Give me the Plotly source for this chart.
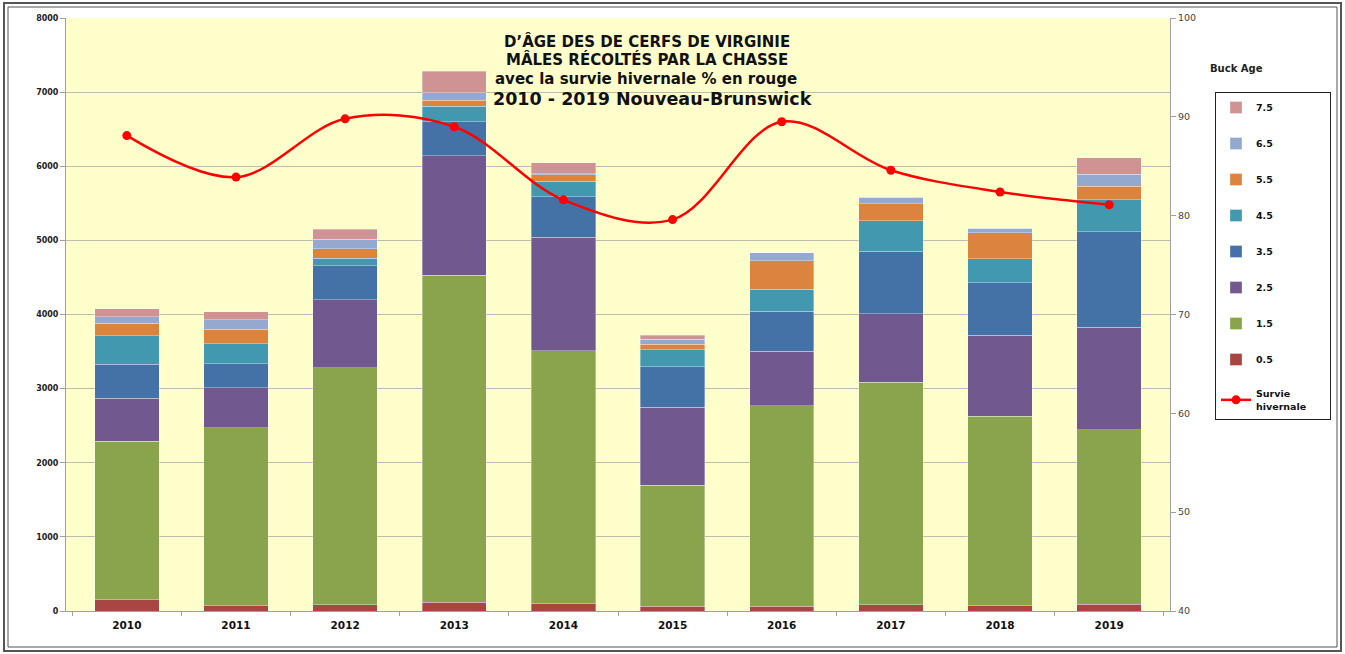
import plotly.graph_objects as go

years = ["2010", "2011", "2012", "2013", "2014", "2015", "2016", "2017", "2018", "2019"]
age_labels = ["0.5", "1.5", "2.5", "3.5", "4.5", "5.5", "6.5", "7.5"]

age_05 = [152, 72, 87, 121, 103, 67, 63, 85, 76, 90]
age_15 = [2138, 2402, 3193, 4409, 3407, 1628, 2709, 3001, 2553, 2355]
age_25 = [580, 539, 917, 1611, 1533, 1056, 732, 926, 1092, 1384]
age_35 = [459, 320, 458, 458, 548, 543, 539, 840, 706, 1290]
age_45 = [386, 274, 101, 212, 207, 230, 297, 413, 328, 432]
age_55 = [167, 194, 131, 82, 90, 76, 386, 229, 351, 179]
age_65 = [89, 130, 130, 97, 13, 63, 108, 90, 58, 162]
age_75 = [104, 108, 130, 289, 144, 54, 0, 0, 0, 220]

survie = [88.1, 83.9, 89.8, 89.0, 81.6, 79.6, 89.5, 84.6, 82.4, 81.1]

series = [age_05, age_15, age_25, age_35, age_45, age_55, age_65, age_75]
colors = ["#A84643", "#8AA44E", "#71588F", "#4472A6", "#4198AF", "#DB843D", "#93A9D0", "#D09393"]

fig = go.Figure()
n = len(series)
for i, (lab, vals, col) in enumerate(zip(age_labels, series, colors)):
    fig.add_trace(go.Bar(
        x=years, y=vals, name="<b>" + lab + "</b>", marker_color=col,
        marker_line=dict(color="rgba(255,255,255,0.55)", width=0.6),
        legendgroup=lab, legendrank=100 + (n - i),
    ))

fig.add_trace(go.Scatter(
    x=years, y=survie, name="<b>Survie<br>hivernale</b>&nbsp;&nbsp;&nbsp;&nbsp;&nbsp;&nbsp;", yaxis="y2",
    mode="lines+markers", line=dict(color="#FF0000", width=2.5, shape="spline", smoothing=1.0),
    marker=dict(color="#FF0000", size=9), legendgroup="surv", legendrank=200,
))

L, R, T, B = 66, 175, 18, 43
W, H = 1345, 654
pw, ph = W - L - R, H - T - B

def px_x(p):
    return (p - L) / pw

def px_y(p):
    return (H - B - p) / ph

shapes = []
for off, wdt in [(0, 2), (4, 1.0)]:
    shapes.append(dict(type="rect", xref="paper", yref="paper",
                       x0=px_x(4 + off), x1=px_x(1341 - off),
                       y0=px_y(651 - off), y1=px_y(3 + off),
                       line=dict(color="#555555", width=wdt), fillcolor="rgba(0,0,0,0)", layer="below"))

title_font = "DejaVu Sans"
annotations = [
    dict(text="<b>D’ÂGE DES DE CERFS DE VIRGINIE</b>", x=px_x(647), y=px_y(30), xref="paper", yref="paper",
         showarrow=False, font=dict(family=title_font, size=15, color="#111111")),
    dict(text="<b>MÂLES RÉCOLTÉS PAR LA CHASSE</b>", x=px_x(647), y=px_y(48), xref="paper", yref="paper",
         showarrow=False, font=dict(family=title_font, size=15, color="#111111")),
    dict(text="<b>avec la survie hivernale % en rouge</b>", x=px_x(646), y=px_y(68), xref="paper", yref="paper",
         showarrow=False, font=dict(family=title_font, size=15, color="#111111")),
    dict(text="<b>2010 - 2019 Nouveau-Brunswick</b>", x=px_x(652), y=px_y(87), xref="paper", yref="paper",
         showarrow=False, font=dict(family=title_font, size=17.5, color="#111111")),
    dict(text="<b>Buck Age</b>", x=px_x(1265), y=px_y(61), xref="paper", yref="paper",
         showarrow=False, font=dict(family=title_font, size=10, color="#222222")),
]

fig.update_layout(
    width=W, height=H,
    margin=dict(l=L, r=R, t=T, b=B),
    barmode="stack", bargap=0.41,
    paper_bgcolor="white", plot_bgcolor="#FFFFCC",
    font=dict(family=title_font, color="#222222"),
    shapes=shapes, annotations=annotations,
    xaxis=dict(type="category", showgrid=False, showline=True, linecolor="#A0A0A0", linewidth=1,
               ticks="outside", tickson="boundaries", ticklen=4, tickcolor="#A0A0A0",
               ticklabelstandoff=4,
               tickfont=dict(family=title_font, size=10.5, color="#111111"), tickprefix="<b>", ticksuffix="</b>"),
    yaxis=dict(range=[0, 8000], dtick=1000, showgrid=True, gridcolor="#BDBDAE", gridwidth=1.3,
               showline=True, linecolor="#A0A0A0", linewidth=1, ticks="outside", ticklen=5,
               tickcolor="#A0A0A0", zeroline=False,
               tickfont=dict(family=title_font, size=8, color="#222222"), tickprefix="<b>", ticksuffix="</b>"),
    yaxis2=dict(range=[40, 100], dtick=10, overlaying="y", side="right", showgrid=False,
                showline=True, linecolor="#A0A0A0", linewidth=1, ticks="outside", ticklen=5,
                tickcolor="#A0A0A0", zeroline=False,
                tickfont=dict(family=title_font, size=9.5, color="#444444")),
    legend=dict(x=px_x(1215), y=px_y(92), xanchor="left", yanchor="top",
                bgcolor="white", bordercolor="#222222", borderwidth=1,
                font=dict(family=title_font, size=9.5, color="#111111"),
                tracegroupgap=17, itemwidth=30),
    showlegend=True,
)

fig.write_html("out.html", config={"displayModeBar": False},
               post_script="document.body.style.margin='0';document.body.style.padding='0';")
